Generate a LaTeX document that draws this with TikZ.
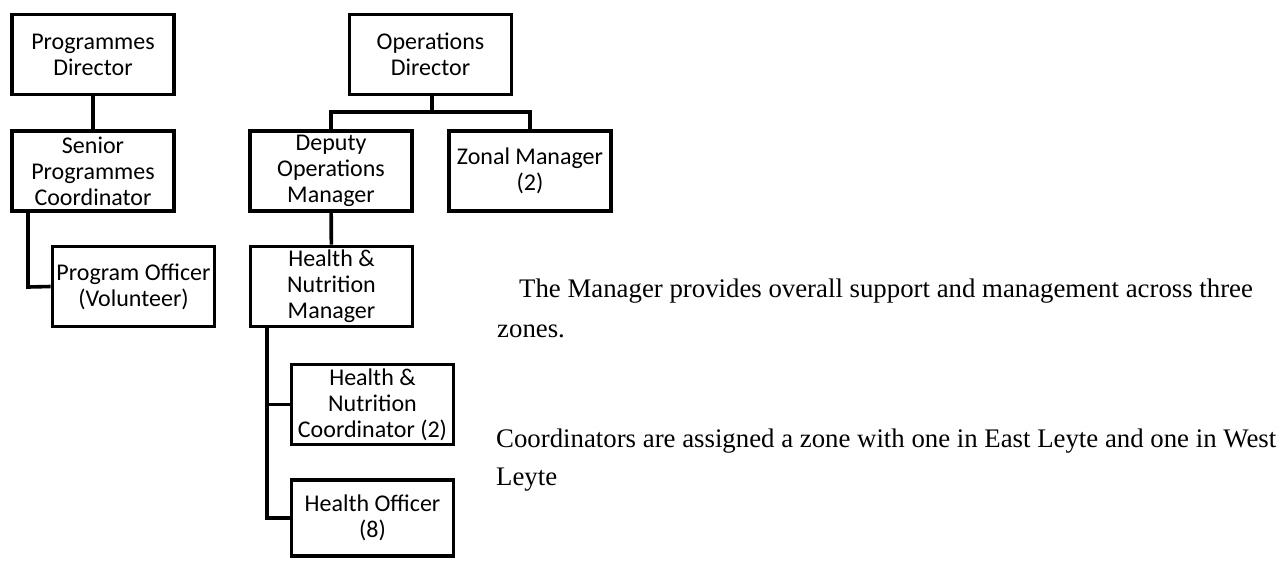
\documentclass[tikz,border=0pt]{standalone}
\usepackage{fontspec}
\setmainfont{Liberation Serif}
\newfontfamily\boxfont{Carlito}
\usepackage{tikz}
\usetikzlibrary{positioning, calc}
\tikzset{
  orgbox/.style={rectangle, draw=black, fill=white, line width=3.6pt,
    align=center, inner sep=0pt, minimum width=162pt, minimum height=80pt,
    font=\boxfont\fontsize{24}{26}\selectfont},
  link/.style={draw=black, line width=3.6pt},
  note/.style={anchor=base west, inner sep=0pt,
    font=\fontsize{26.8}{30}\selectfont}
}

\begin{document}
\begin{tikzpicture}[x=1pt, y=-1pt]
  \useasboundingbox (0,0) rectangle (1285,560);

  % Programmes side
  \node[orgbox] (pd) at (93,54.5) {Programmes\\Director};
  \node[orgbox] (spc) at (93,171) {Senior\\Programmes\\Coordinator};
  \node[orgbox] (po) at (133.5,286.5) {Program Officer\\(Volunteer)};

  % Operations side
  \node[orgbox] (od) at (430.5,54.5) {Operations\\Director};
  \node[orgbox] (dom) at (331,171) {Deputy\\Operations\\Manager};
  \node[orgbox] (zm) at (530,171) {Zonal Manager\\(2)};
  \node[orgbox] (hnm) at (331.5,286.5) {Health \&\\Nutrition\\Manager};
  \node[orgbox] (hnc) at (372.5,404.5) {Health \&\\Nutrition\\Coordinator (2)};
  \node[orgbox, minimum height=76pt] (ho) at (372.5,518) {Health Officer\\(8)};

  % Joints
  \coordinate (pojoin) at (28,287);
  \coordinate (odbus) at (432,112);
  \coordinate (hnspine) at (267,0);

  % Links
  \draw[link] (pd) -- (spc);
  \draw[link] (spc.south -| pojoin) -- (pojoin) -- (po.west);
  \draw[link] (od.south -| odbus) -- (odbus);
  \draw[link] (dom.north) |- (odbus -| zm.north) -- (zm.north);
  \draw[link] (dom) -- (hnm);
  \draw[link] (hnm.south -| hnspine) |- (ho.west);
  \draw[link] (hnspine |- hnc.west) -- (hnc.west);

  % Notes
  \node[note] (mgrnote) at (519,297) {The Manager provides overall support and management across three};
  \node[note] (mgrnote2) at (497,337) {zones.};
  \node[note] (crdnote) at (496,447) {Coordinators are assigned a zone with one in East Leyte and one in West};
  \node[note] (crdnote2) at (496,485) {Leyte};
\end{tikzpicture}
\end{document}
